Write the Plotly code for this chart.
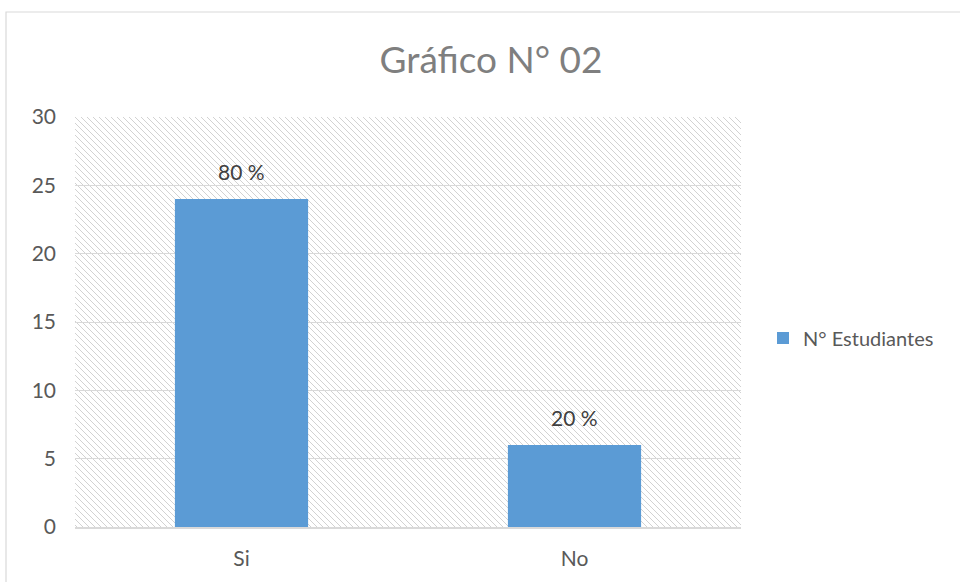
import base64
import plotly.graph_objects as go

categories = ["Si", "No"]
estudiantes = [24, 6]
porcentajes = ["80 %", "20 %"]
series_name = "N° Estudiantes"
title_text = "Gráfico N° 02"
y_ticks = [0, 5, 10, 15, 20, 25, 30]

W, H = 960, 582
px0, px1 = 75, 741
py_top, py_bot = 117, 527

svg = (
    '<svg xmlns="http://www.w3.org/2000/svg" width="666" height="410">'
    '<defs><pattern id="p" width="6" height="6" patternUnits="userSpaceOnUse">'
    '<path d="M-1,-1 L7,7 M-1,5 L1,7 M5,-1 L7,1" stroke="#d2d2d2" stroke-width="1"/>'
    '</pattern></defs><rect width="100%" height="100%" fill="url(#p)"/></svg>'
)
hatch = "data:image/svg+xml;base64," + base64.b64encode(svg.encode()).decode()

FONT = "Lato, Open Sans, sans-serif"

fig = go.Figure()
fig.add_trace(go.Bar(
    x=categories, y=estudiantes, name=series_name,
    marker=dict(color="#5b9bd5", line=dict(width=0)),
    width=0.4,
))

for cat, val, lab in zip(categories, estudiantes, porcentajes):
    fig.add_annotation(x=cat, y=val, text=lab, showarrow=False,
                       xanchor="center", yanchor="bottom", yshift=13,
                       font=dict(family=FONT, size=21, color="#404040"))

fig.update_layout(
    width=W, height=H,
    margin=dict(l=0, r=0, t=0, b=0, autoexpand=False),
    paper_bgcolor="white",
    plot_bgcolor="rgba(0,0,0,0)",
    font=dict(family=FONT, color="#595959", size=21),
    title=dict(text=title_text, x=491 / W, xanchor="center", y=1 - 60 / H, yanchor="middle",
               font=dict(size=37, color="#7f7f7f", family=FONT)),
    showlegend=True,
    legend=dict(x=763 / W, y=1 - 338 / H, xanchor="left", yanchor="middle",
                font=dict(size=20, color="#595959"), bgcolor="rgba(0,0,0,0)"),
    xaxis=dict(domain=[px0 / W, px1 / W], showgrid=False, showline=True, automargin=False,
               linecolor="#d9d9d9", linewidth=1.5, ticks="", tickfont=dict(size=21),
               ticklabelstandoff=12),
    yaxis=dict(domain=[1 - py_bot / H, 1 - py_top / H], range=[0, 30], automargin=False,
               tickvals=y_ticks, showgrid=True, gridcolor="#d9d9d9", gridwidth=1,
               zeroline=False, showline=False, ticks="", tickfont=dict(size=21),
               ticklabelstandoff=18),
    bargap=0.6,
    images=[dict(source=hatch, xref="paper", yref="paper",
                 x=px0 / W, y=1 - py_top / H, sizex=(px1 - px0) / W,
                 sizey=(py_bot - py_top) / H, xanchor="left", yanchor="top",
                 sizing="stretch", layer="below")],
    shapes=[dict(type="rect", xref="paper", yref="paper",
                 x0=6 / W, x1=1.01, y0=-0.01, y1=1 - 12 / H,
                 line=dict(color="#d9d9d9", width=1.2), fillcolor="rgba(0,0,0,0)",
                 layer="below")],
)

fig.write_html("out.html", config={"displayModeBar": False},
               post_script="document.body.style.margin='0';")
